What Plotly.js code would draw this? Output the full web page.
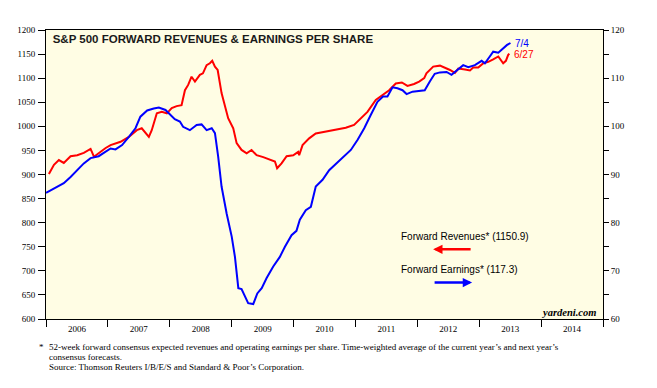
<!DOCTYPE html>
<html>
<head>
<meta charset="utf-8">
<script src="https://cdn.plot.ly/plotly-3.0.1.min.js"></script>
<style>
html,body{margin:0;padding:0;background:#fff;}
#chart{width:657px;height:388px;}
</style>
</head>
<body>
<div id="chart"></div>
<script>
// Forward revenues per share (left axis)
var revDates = ["2006-01-18","2006-02-17","2006-03-18","2006-04-16","2006-05-26","2006-07-04","2006-08-12","2006-09-21","2006-10-11","2006-11-10","2006-12-19",
"2007-01-17","2007-03-17","2007-05-05","2007-06-21","2007-07-20","2007-08-11","2007-08-31","2007-09-17","2007-10-17","2007-11-15","2007-12-15",
"2008-01-13","2008-02-11","2008-03-11","2008-03-31","2008-04-19","2008-05-09","2008-05-29","2008-06-27","2008-07-15","2008-08-06","2008-08-25","2008-09-08","2008-09-24","2008-10-10","2008-11-02","2008-11-22","2008-12-11",
"2009-01-10","2009-01-30","2009-02-28","2009-03-30","2009-04-28","2009-05-28","2009-07-06","2009-08-14","2009-09-13","2009-09-26","2009-10-22","2009-11-21","2009-12-30",
"2010-01-28","2010-02-03","2010-02-23","2010-04-03","2010-05-12","2010-07-10","2010-09-07","2010-11-05","2010-12-24",
"2011-02-02","2011-03-13","2011-05-01","2011-06-10","2011-07-19","2011-08-27","2011-10-02","2011-11-04","2011-12-13",
"2012-01-12","2012-02-11","2012-02-24","2012-04-04","2012-05-14","2012-06-12","2012-07-12","2012-08-10","2012-08-30","2012-10-09","2012-11-07","2012-11-26","2012-12-26",
"2013-01-25","2013-02-23","2013-03-24","2013-04-23","2013-05-22","2013-06-07","2013-06-20","2013-06-27"];
var revValues = [901,920,930,924,938,940,945,953,937,945,955,
961,968,978,992,996,986,978,992,1027,1030,1027,
1038,1042,1044,1075,1086,1103,1093,1107,1110,1127,1131,1136,1124,1117,1069,1044,1017,
996,965,951,944,951,940,936,930,927,913,923,938,940,
947,940,961,975,985,989,994,997,1003,
1017,1030,1055,1065,1075,1089,1091,1084,1088,
1093,1100,1110,1124,1126,1122,1117,1111,1120,1118,1116,1122,1122,
1131,1134,1139,1145,1131,1136,1148,1150.9];

// Forward earnings per share (right axis)
var epsDates = ["2006-01-01","2006-02-17","2006-03-27","2006-04-16","2006-05-26","2006-07-04","2006-08-12","2006-09-21","2006-11-08","2006-12-08",
"2007-01-17","2007-02-15","2007-03-26","2007-05-05","2007-06-13","2007-07-12","2007-08-21","2007-09-29","2007-10-29","2007-12-07",
"2008-01-15","2008-01-31","2008-03-01","2008-03-20","2008-04-29","2008-06-08","2008-07-07","2008-08-06","2008-09-05","2008-09-24","2008-10-13","2008-11-02","2008-12-02",
"2009-01-01","2009-01-20","2009-02-09","2009-02-28","2009-03-20","2009-04-08","2009-05-08","2009-06-01","2009-06-27","2009-07-26","2009-09-03","2009-10-12","2009-11-11","2009-12-20",
"2010-01-18","2010-02-07","2010-03-14","2010-04-13","2010-05-12","2010-06-21","2010-07-30","2010-09-07","2010-10-17","2010-12-05",
"2011-01-14","2011-02-22","2011-04-02","2011-05-11","2011-06-13","2011-07-09","2011-08-08","2011-09-06","2011-10-06","2011-10-30","2011-12-04",
"2012-01-12","2012-02-14","2012-03-15","2012-04-13","2012-05-14","2012-06-22","2012-07-21","2012-08-20","2012-09-28","2012-10-28","2012-12-06",
"2013-01-15","2013-02-03","2013-03-04","2013-03-24","2013-04-23","2013-05-22","2013-06-14","2013-07-04"];
var epsValues = [86.2,87.1,87.8,88.2,89.5,90.9,92.3,93.4,93.8,94.5,
95.4,95.2,96.1,97.8,99.6,102.0,103.3,103.7,103.9,103.4,
102.0,101.5,101.0,99.9,99.2,100.3,100.4,99.2,99.6,98.6,93.7,87.5,81.9,
77.1,72.9,66.4,66.2,64.6,63.3,63.1,65.3,66.4,68.5,70.9,72.9,75.0,77.4,
78.3,80.6,82.6,83.3,87.5,88.9,90.9,92.2,93.4,95.1,
97.2,99.6,102.4,105.1,106.2,106.2,108.1,107.9,107.5,106.7,107.2,
107.3,107.5,109.3,110.9,111.2,111.3,110.7,111.6,112.7,112.3,112.7,
113.6,113.1,114.5,115.5,115.3,116.2,116.9,117.3];

var leftTicks = [600,650,700,750,800,850,900,950,1000,1050,1100,1150,1200];
var rightTicks = [60,65,70,75,80,85,90,95,100,105,110,115,120];
var rightTickText = ["60","","70","","80","","90","","100","","110","","120"];
var xRange = ["2006-01-01","2015-01-01"];

var titleText = "S&P 500 FORWARD REVENUES & EARNINGS PER SHARE";
var revLabel = "Forward Revenues* (1150.9)";
var epsLabel = "Forward Earnings* (117.3)";
var revEndLabel = "6/27";
var epsEndLabel = "7/4";
var footnotes = [
  "52-week forward consensus expected revenues and operating earnings per share. Time-weighted average of the current year\u2019s and next year\u2019s",
  "consensus forecasts.",
  "Source: Thomson Reuters I/B/E/S and Standard &amp; Poor\u2019s Corporation."
];

var serif = "Liberation Serif, Times New Roman, serif";
var sans = "Liberation Sans, Arial, sans-serif";

var traces = [
  {x: revDates, y: revValues, type: "scatter", mode: "lines", yaxis: "y",
   line: {color: "#ff0000", width: 2}, hoverinfo: "skip"},
  {x: epsDates, y: epsValues, type: "scatter", mode: "lines", yaxis: "y2",
   line: {color: "#0000ff", width: 2}, hoverinfo: "skip"}
];

var annotations = [
  {xref: "paper", yref: "paper", x: 0.838, y: 0.954, xanchor: "left", yanchor: "middle",
   text: epsEndLabel, showarrow: false, font: {family: sans, size: 10, color: "#0000ff"}},
  {xref: "paper", yref: "paper", x: 0.836, y: 0.916, xanchor: "left", yanchor: "middle",
   text: revEndLabel, showarrow: false, font: {family: sans, size: 10, color: "#ff0000"}},
  {xref: "paper", yref: "paper", x: 0.634, y: 0.285, xanchor: "left", yanchor: "middle",
   text: revLabel, showarrow: false, font: {family: sans, size: 10, color: "#000"}},
  {xref: "paper", yref: "paper", x: 0.634, y: 0.172, xanchor: "left", yanchor: "middle",
   text: epsLabel, showarrow: false, font: {family: sans, size: 10, color: "#000"}},
  {xref: "paper", yref: "paper", x: 0.695, y: 0.241, ax: 39, ay: 0, text: "",
   showarrow: true, arrowhead: 2, arrowsize: 0.75, arrowwidth: 2.5, arrowcolor: "#ff0000"},
  {xref: "paper", yref: "paper", x: 0.765, y: 0.126, ax: -39, ay: 0, text: "",
   showarrow: true, arrowhead: 2, arrowsize: 0.75, arrowwidth: 2.5, arrowcolor: "#0000ff"},
  {xref: "paper", yref: "paper", x: 0.991, y: 0.022, xanchor: "right", yanchor: "middle",
   text: "<b><i>yardeni.com</i></b>", showarrow: false, font: {family: serif, size: 10.5, color: "#000"}},
  {xref: "paper", yref: "paper", x: -0.0167, y: -0.0958, xanchor: "left", yanchor: "middle",
   text: "*", showarrow: false, font: {family: serif, size: 9, color: "#000"}},
  {xref: "paper", yref: "paper", x: 0.0013, y: -0.0958, xanchor: "left", yanchor: "middle",
   text: footnotes[0], showarrow: false, font: {family: serif, size: 9, color: "#000"}},
  {xref: "paper", yref: "paper", x: 0.0013, y: -0.1304, xanchor: "left", yanchor: "middle",
   text: footnotes[1], showarrow: false, font: {family: serif, size: 9, color: "#000"}},
  {xref: "paper", yref: "paper", x: 0.0013, y: -0.165, xanchor: "left", yanchor: "middle",
   text: footnotes[2], showarrow: false, font: {family: serif, size: 9, color: "#000"}}
];

var layout = {
  width: 657, height: 388,
  margin: {l: 46, r: 54, t: 30, b: 69, pad: 0},
  paper_bgcolor: "#ffffff",
  plot_bgcolor: "#fffde4",
  showlegend: false,
  hovermode: false,
  title: {text: "<b>" + titleText.replace(/&/g, "&amp;") + "</b>",
          xref: "container", yref: "container", x: 0.0802, y: 0.8987,
          xanchor: "left", yanchor: "middle",
          font: {family: sans, size: 11.5, color: "#1a1a1a"}},
  xaxis: {type: "date", range: xRange, dtick: "M12", tick0: "2006-01-01",
          ticklabelmode: "period", tickformat: "%Y", ticks: "outside", ticklen: 7,
          tickwidth: 1, tickcolor: "#000", ticklabelstandoff: -6,
          showgrid: false, zeroline: false, showline: true, linecolor: "#000",
          linewidth: 1, mirror: true,
          tickfont: {family: serif, size: 9, color: "#000"}},
  yaxis: {range: [600, 1200], tickvals: leftTicks, ticks: "outside", ticklen: 7,
          tickwidth: 1, tickcolor: "#000", showgrid: false, zeroline: false,
          showline: true, linecolor: "#000", linewidth: 1, mirror: true,
          ticklabelstandoff: 1,
          tickfont: {family: serif, size: 9, color: "#000"}},
  yaxis2: {range: [60, 120], overlaying: "y", side: "right", tickvals: rightTicks,
           ticktext: rightTickText, ticks: "outside", ticklen: 5, tickwidth: 1,
           tickcolor: "#000", showgrid: false, zeroline: false, showline: true,
           linecolor: "#000", linewidth: 1,
           tickfont: {family: serif, size: 9, color: "#000"}},
  annotations: annotations
};

Plotly.newPlot("chart", traces, layout, {displayModeBar: false, staticPlot: true});
</script>
</body>
</html>
